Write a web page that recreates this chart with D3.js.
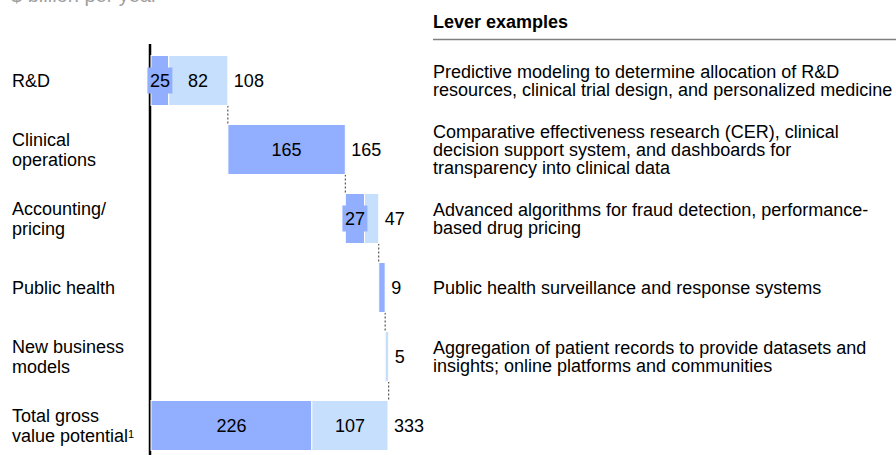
<!DOCTYPE html>
<html>
<head>
<meta charset="utf-8">
<script src="https://cdn.jsdelivr.net/npm/d3@7"></script>
<style>
  body { margin: 0; background: #fff; }
  text { font-family: "Liberation Sans", Arial, sans-serif; }
</style>
</head>
<body>
<div id="chart"></div>
<script>
// values in $ billion per year
const categories = ["R&D", "Clinical operations", "Accounting/pricing", "Public health", "New business models", "Total gross value potential"];
const catLines = [["R&D"], ["Clinical", "operations"], ["Accounting/", "pricing"], ["Public health"], ["New business", "models"], ["Total gross", "value potential"]];
const darkVals = [25, 165, 27, 9, 0, 226];
const lightVals = [82, 0, 20, 0, 5, 107];
const totals = [108, 165, 47, 9, 5, 333];
const levers = [
  ["Predictive modeling to determine allocation of R&D", "resources, clinical trial design, and personalized medicine"],
  ["Comparative effectiveness research (CER), clinical", "decision support  system, and dashboards for", "transparency into clinical data"],
  ["Advanced algorithms for fraud detection, performance-", "based drug pricing"],
  ["Public health surveillance and response systems"],
  ["Aggregation of patient records to provide datasets and", "insights; online platforms and communities"],
  []
];

const W = 896, H = 455;
const darkColor = "#91aeff", lightColor = "#c6dffd";
const fs = 18;

const svg = d3.select("#chart").append("svg")
    .attr("width", W)
    .attr("height", H);

// scales
const x = d3.scaleLinear().domain([0, 333]).range([151, 388]);
const y = d3.scaleBand()
    .domain(categories)
    .range([46, 460])
    .paddingInner(0.275)
    .paddingOuter(0.1375);
const bw = y.bandwidth();

// starting offsets: waterfall for levers, total starts at 0
const starts = totals.map((d, i) => i === totals.length - 1 ? 0 : d3.sum(totals.slice(0, i)));

const rows = categories.map((c, i) => ({
  cat: c,
  start: starts[i],
  dark: darkVals[i],
  light: lightVals[i],
  total: totals[i]
}));

// unit caption (cut off at top, as in the source)
svg.append("text")
    .attr("x", 11).attr("y", 2)
    .attr("fill", "#a0a0a0")
    .attr("font-size", 20)
    .text("$ billion per year");

// lever header
svg.append("text")
    .attr("x", 433).attr("y", 28)
    .attr("font-size", fs)
    .attr("font-weight", "bold")
    .text("Lever examples");
svg.append("line")
    .attr("x1", 433).attr("x2", W)
    .attr("y1", 39.5).attr("y2", 39.5)
    .attr("stroke", "#7f7f7f")
    .attr("stroke-width", 1.5);

// axis line (drawn under the bars)
svg.append("g")
    .attr("transform", "translate(150,0)")
    .call(d3.axisLeft(y).tickSize(0).tickFormat(""))
    .call(g => g.select(".domain").attr("stroke", "#000").attr("stroke-width", 2.5)
      .attr("d", `M0,44V${H + 5}`));

// connectors
const conn = svg.append("g");
rows.slice(0, rows.length - 1).forEach((d, i) => {
  const xe = x(d.start + d.total);
  conn.append("line")
      .attr("x1", xe).attr("x2", xe)
      .attr("y1", y(d.cat) + bw).attr("y2", y(categories[i + 1]))
      .attr("stroke", "#333")
      .attr("stroke-width", 1)
      .attr("stroke-dasharray", "2,2");
});

// bars
const bars = svg.append("g")
  .selectAll("g")
  .data(rows)
  .join("g")
    .attr("transform", d => `translate(0, ${y(d.cat)})`);

bars.filter(d => d.dark > 0).append("rect")
    .attr("x", d => x(d.start))
    .attr("y", 0)
    .attr("width", d => x(d.start + d.dark) - x(d.start))
    .attr("height", bw)
    .attr("fill", darkColor)
    .attr("stroke", "#fff")
    .attr("stroke-width", 1);

bars.filter(d => d.light > 0).append("rect")
    .attr("x", d => x(d.start + d.dark))
    .attr("y", 0)
    .attr("width", d => x(d.start + d.total) - x(d.start + d.dark))
    .attr("height", bw)
    .attr("fill", lightColor)
    .attr("stroke", "#fff")
    .attr("stroke-width", 1);

// segment labels
function segLabel(g, v, x0, x1, fill) {
  if (v <= 20) return;
  const cx = (x(x0) + x(x1)) / 2;
  if (x(x1) - x(x0) < 24) {
    g.append("rect")
        .attr("x", cx - 12.5).attr("y", bw / 2 - 13)
        .attr("width", 25).attr("height", 26)
        .attr("fill", fill);
  }
  g.append("text")
      .attr("x", cx).attr("y", bw / 2)
      .attr("dy", "0.35em")
      .attr("text-anchor", "middle")
      .attr("font-size", fs)
      .text(v);
}
bars.each(function(d) {
  const g = d3.select(this);
  segLabel(g, d.dark, d.start, d.start + d.dark, darkColor);
  segLabel(g, d.light, d.start + d.dark, d.start + d.dark + d.light, lightColor);
});

// totals
bars.append("text")
    .attr("x", d => x(d.start + d.total) + 6)
    .attr("y", bw / 2)
    .attr("dy", "0.35em")
    .attr("font-size", fs)
    .text(d => d.total);

// category labels
categories.forEach((c, i) => {
  const lines = catLines[i];
  const cy = y(c) + bw / 2;
  const t = svg.append("text")
      .attr("x", 12)
      .attr("font-size", fs);
  lines.forEach((ln, j) => {
    t.append("tspan")
        .attr("x", 12)
        .attr("y", cy + (j - (lines.length - 1) / 2) * 20)
        .attr("dy", "0.35em")
        .text(ln);
  });
  if (i === categories.length - 1) {
    t.append("tspan").attr("font-size", 11).attr("dy", "-0.35em").text("1");
  }
});

// lever examples
levers.forEach((lines, i) => {
  const cy = y(categories[i]) + bw / 2;
  const t = svg.append("text").attr("font-size", fs);
  lines.forEach((ln, j) => {
    t.append("tspan")
        .attr("x", 433)
        .attr("y", cy + (j - (lines.length - 1) / 2) * 18)
        .attr("dy", "0.35em")
        .text(ln);
  });
});
</script>
</body>
</html>
